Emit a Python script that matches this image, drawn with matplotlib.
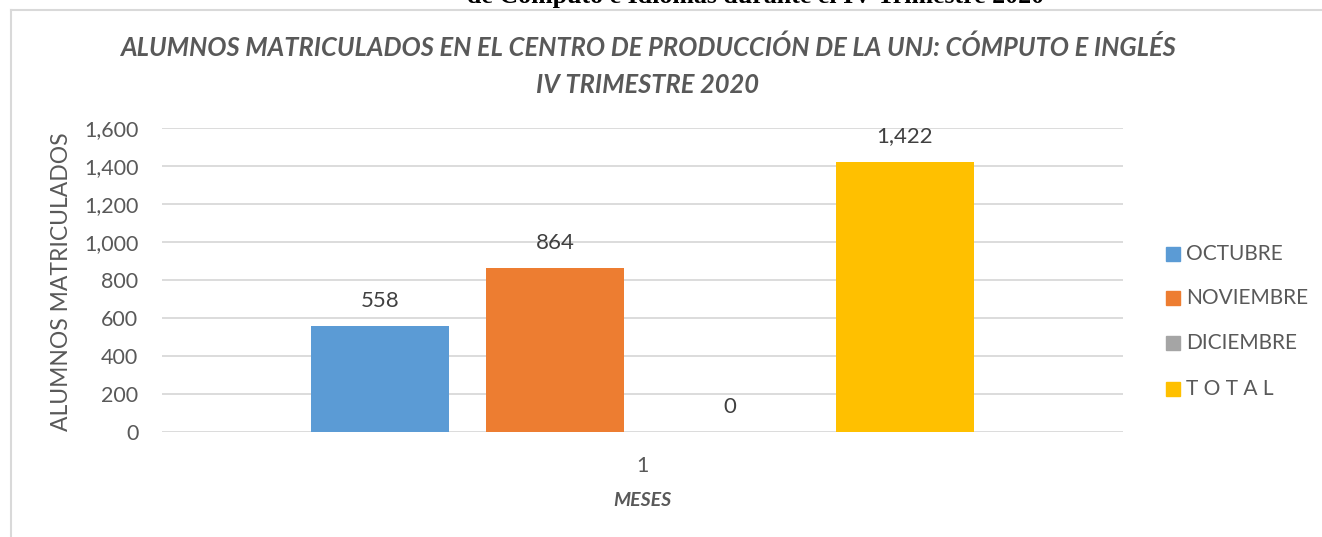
import matplotlib.pyplot as plt
import numpy as np
from matplotlib.patches import Rectangle
from matplotlib.lines import Line2D

categories = ["1"]
series_names = ["OCTUBRE", "NOVIEMBRE", "DICIEMBRE", "T O T A L"]
series_values = [558, 864, 0, 1422]
series_colors = ["#5B9BD5", "#ED7D31", "#A5A5A5", "#FFC000"]
y_ticks = [0, 200, 400, 600, 800, 1000, 1200, 1400, 1600]

title_lines = [
    "ALUMNOS MATRICULADOS EN EL CENTRO DE PRODUCCIÓN DE LA UNJ: CÓMPUTO E INGLÉS",
    "IV TRIMESTRE 2020",
]
cut_caption = "de Cómputo e Idiomas durante el IV Trimestre 2020"

W, H = 1322, 537
TEXT = "#595959"
GRID = "#D9D9D9"
SANS = "Lato"

fig = plt.figure(figsize=(W / 100, H / 100), dpi=100)


def fx(px):
    return px / W


def fy(py):
    return 1 - py / H


def fit_width(text_obj, target_px):
    fig.canvas.draw()
    r = fig.canvas.get_renderer()
    w = text_obj.get_window_extent(r).width
    text_obj.set_fontsize(text_obj.get_fontsize() * target_px / w)


# chart border (Word-embedded chart frame)
fig.add_artist(Line2D([fx(11), fx(W + 5)], [fy(9.5), fy(9.5)], color=GRID, lw=1.5))
fig.add_artist(Line2D([fx(11), fx(11)], [fy(9.5), fy(H + 5)], color=GRID, lw=1.5))

# caption of the document above, cut by the image edge
cap = fig.text(fx(756), fy(3), cut_caption, ha="center", va="baseline",
               family="Liberation Serif", weight="bold", fontsize=17, color="black")

ax = fig.add_axes([fx(162), fy(432), fx(1123) - fx(162), fy(128) - fy(432)])

slot = 175 / 961
bar_w = 138 / 961
x = np.arange(len(categories))
for i, (name, val, col) in enumerate(zip(series_names, series_values, series_colors)):
    pos = x + (i - 1.5) * slot
    bars = ax.bar(pos, [val], width=bar_w, color=col, label=name, zorder=3)
    ax.bar_label(bars, labels=[f"{val:,}"], padding=11, fontsize=16,
                 color="#404040", family=SANS)

ax.set_xlim(-0.5, 0.5)
ax.set_ylim(0, 1600)
ax.set_yticks(y_ticks)
ax.set_yticklabels([f"{v:,}" for v in y_ticks])
ax.set_xticks(x)
ax.set_xticklabels(categories)
ax.tick_params(axis="both", length=0, labelsize=15.5, labelcolor=TEXT)
ax.tick_params(axis="y", pad=17)
ax.tick_params(axis="x", pad=17)
for lab in ax.get_xticklabels() + ax.get_yticklabels():
    lab.set_family(SANS)
ax.grid(axis="y", color=GRID, lw=1.3, zorder=0)
for s in ax.spines.values():
    s.set_visible(False)

fig.text(fx(62), fy(282), "ALUMNOS MATRICULADOS", rotation=90, ha="center",
         va="center", fontsize=16.5, color=TEXT, family=SANS)

fig.text(fx(642), fy(500), "MESES", ha="center", va="center", fontsize=14,
         weight="bold", style="italic", color=TEXT, family=SANS)

t1 = fig.text(fx(648), fy(47), title_lines[0], ha="center", va="center", fontsize=16,
              weight="bold", style="italic", color=TEXT, family=SANS)
t2 = fig.text(fx(648), fy(85), title_lines[1], ha="center", va="center", fontsize=16,
              weight="bold", style="italic", color=TEXT, family=SANS)
fit_width(t1, 1059)
t2.set_fontsize(t1.get_fontsize())
fit_width(cap, 578)

# legend
legend_y = [254, 298, 343, 389]
for name, col, py in zip(series_names, series_colors, legend_y):
    fig.add_artist(Rectangle((fx(1166), fy(py + 7)), fx(14), 14 / H,
                             color=col, transform=fig.transFigure))
    fig.text(fx(1186), fy(py), name, ha="left", va="center", fontsize=15,
             color=TEXT, family=SANS)

fig.savefig("out.png", dpi=100)
